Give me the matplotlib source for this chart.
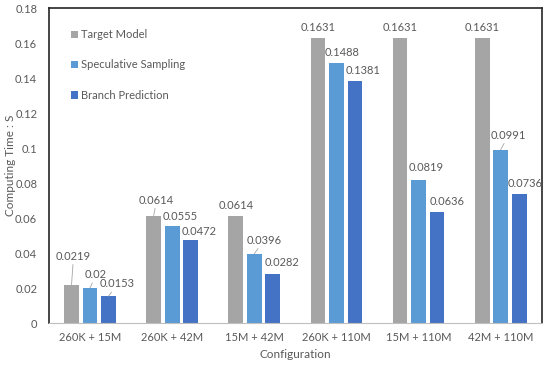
import numpy as np
import matplotlib.pyplot as plt

configs = ['260K + 15M', '260K + 42M', '15M + 42M', '260K + 110M', '15M + 110M', '42M + 110M']
target = [0.0219, 0.0614, 0.0614, 0.1631, 0.1631, 0.1631]
spec = [0.02, 0.0555, 0.0396, 0.1488, 0.0819, 0.0991]
branch = [0.0153, 0.0472, 0.0282, 0.1381, 0.0636, 0.0736]
names = ['Target Model', 'Speculative Sampling', 'Branch Prediction']
colors = ['#A5A5A5', '#5B9BD5', '#4472C4']

# label offsets (pixels) per series/group; leader line flag
offs = [
    [(2, 23, True), (3, 10, True), (0, 5, False), (0, 5, False), (0, 5, False), (0, 5, False)],
    [(6, 8, True), (8, 4, False), (10, 8, True), (6, 5, False), (8, 7, False), (8, 9, True)],
    [(9, 7, True), (8, 3, False), (9, 6, False), (8, 5, False), (10, 5, False), (6, 5, False)],
]

plt.rcParams['font.family'] = ['Lato', 'DejaVu Sans']
txt = '#595959'

fig = plt.figure(figsize=(5.5, 3.65), dpi=100)
ax = fig.add_axes([0.089, 0.115, 0.896, 0.863])

x = np.arange(len(configs))
w = 0.18
for i, (vals, name, c) in enumerate(zip([target, spec, branch], names, colors)):
    xs = x + (i - 1) * 0.225
    ax.bar(xs, vals, w, color=c, label=name)
    for j, (xx, v) in enumerate(zip(xs, vals)):
        dx, dy, lead = offs[i][j]
        ax.annotate(str(v), (xx, v), xytext=(dx * 0.72, dy * 0.72), textcoords='offset points',
                    ha='center', va='bottom', fontsize=8, color=txt,
                    arrowprops=dict(arrowstyle='-', color='#A5A5A5', lw=0.6, shrinkA=0, shrinkB=0) if lead else None)

ax.set_xlim(-0.5, 5.5)
ax.set_ylim(0, 0.18)
ax.set_yticks(np.arange(0, 0.181, 0.02))
ax.set_yticklabels(['0', '0.02', '0.04', '0.06', '0.08', '0.1', '0.12', '0.14', '0.16', '0.18'])
ax.set_xticks(x)
ax.set_xticklabels(configs)
ax.tick_params(length=0, labelsize=8, colors=txt)
ax.tick_params(axis='x', pad=6.5)
ax.tick_params(axis='y', pad=8.5)
for s in ['left', 'top', 'right']:
    ax.spines[s].set_color('#262626')
    ax.spines[s].set_linewidth(1.2)
ax.spines['bottom'].set_color('#BFBFBF')
ax.set_ylabel('Computing Time : S', fontsize=8.5, color=txt)
ax.yaxis.set_label_coords(-0.066, 0.5)
ax.set_xlabel('Configuration', fontsize=8.5, color=txt, labelpad=4)

ax.legend(loc='upper left', bbox_to_anchor=(0.025, 0.965), frameon=False, fontsize=8,
          labelcolor=txt, handlelength=0.6, handleheight=0.6, handletextpad=0.3, labelspacing=1.75)

fig.savefig('out.png', dpi=100)
